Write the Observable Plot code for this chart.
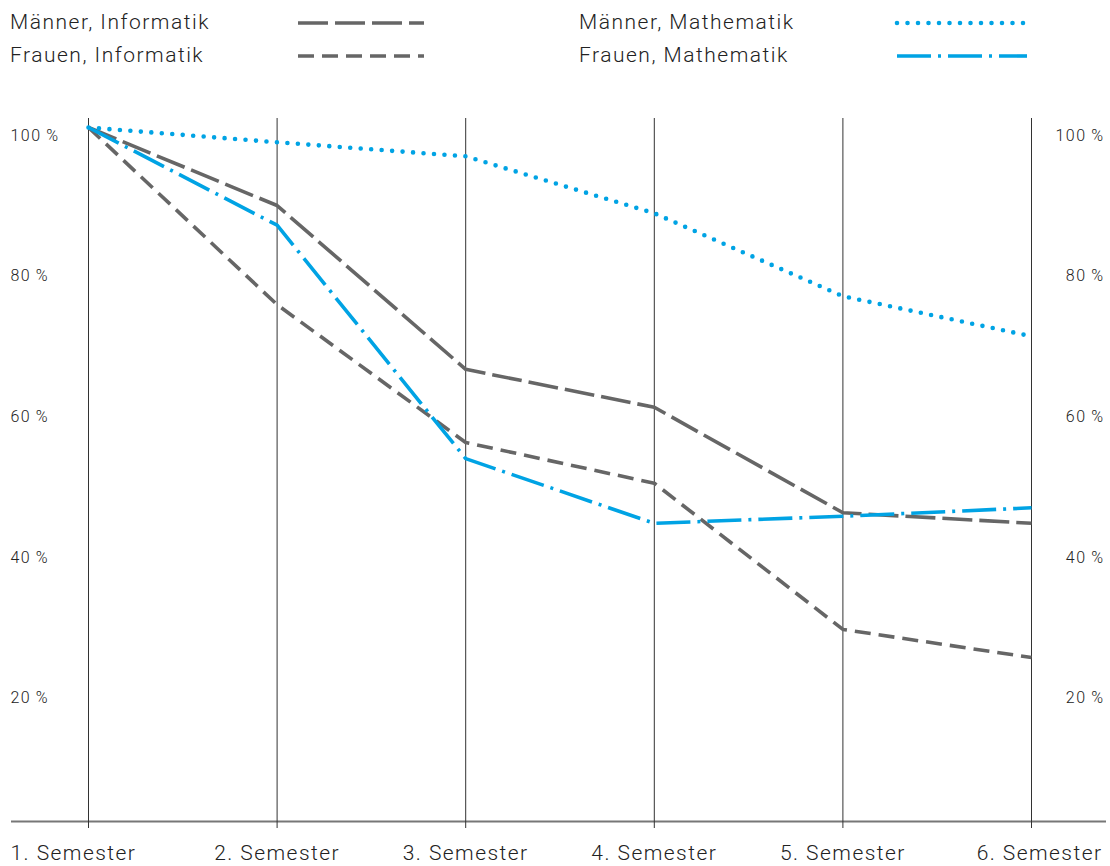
<!DOCTYPE html>
<html>
<head>
<meta charset="utf-8">
<script src="https://cdn.jsdelivr.net/npm/d3@7"></script>
<script src="https://cdn.jsdelivr.net/npm/@observablehq/plot@0.6"></script>
<style>
  html, body { margin: 0; padding: 0; background: #fff; }
  body { width: 1110px; height: 866px; overflow: hidden; font-family: Roboto, "Liberation Sans", sans-serif; font-weight: 300; color: #222; }
  #legend { position: relative; height: 80px; width: 1110px; }
  .lg-text { position: absolute; font-size: 21px; line-height: 24px; letter-spacing: 1.5px; white-space: nowrap; }
  .lg-swatch { position: absolute; }
  #chart svg { display: block; }
</style>
</head>
<body>
<div id="legend"></div>
<div id="chart"></div>
<script>
// ---- data ----
const semesters = [1, 2, 3, 4, 5, 6];
const semesterLabels = ["1. Semester", "2. Semester", "3. Semester", "4. Semester", "5. Semester", "6. Semester"];
const maennerInformatik = [100, 88.9, 65.6, 60.2, 45.2, 43.7];
const frauenInformatik = [100, 74.8, 55.2, 49.4, 28.6, 24.6];
const maennerMathematik = [100, 97.9, 95.9, 87.8, 76.0, 70.3];
const frauenMathematik = [100, 86.1, 52.9, 43.7, 44.7, 45.9];
const yTicks = [100, 80, 60, 40, 20];
const seriesNames = ["Männer, Informatik", "Frauen, Informatik", "Männer, Mathematik", "Frauen, Mathematik"];

// ---- styles ----
const GRAY = "#666666";
const BLUE = "#00a3e4";
const styles = {
  "Männer, Informatik": {stroke: GRAY, dash: "30 7", cap: "butt", width: 3.6},
  "Frauen, Informatik": {stroke: GRAY, dash: "16 8", cap: "butt", width: 3.6},
  "Männer, Mathematik": {stroke: BLUE, dash: "0 10.5", cap: "round", width: 4.6},
  "Frauen, Mathematik": {stroke: BLUE, dash: "34 7 3 7", cap: "butt", width: 3.6}
};
const seriesValues = [maennerInformatik, frauenInformatik, maennerMathematik, frauenMathematik];
const table = seriesNames.flatMap((name, i) =>
  semesters.map((s, j) => ({series: name, semester: s, value: seriesValues[i][j]})));

// ---- legend ----
const legend = document.getElementById("legend");
const legendPos = [
  {tx: 10, ty: 10, sx: 298, sw: 126},
  {tx: 10, ty: 43, sx: 298, sw: 126},
  {tx: 579, ty: 10, sx: 897, sw: 130},
  {tx: 579, ty: 43, sx: 897, sw: 130}
];
seriesNames.forEach((name, i) => {
  const p = legendPos[i], st = styles[name];
  const t = document.createElement("div");
  t.className = "lg-text";
  t.style.left = p.tx + "px"; t.style.top = p.ty + "px";
  t.textContent = name;
  legend.appendChild(t);
  const ns = "http://www.w3.org/2000/svg";
  const svg = document.createElementNS(ns, "svg");
  svg.setAttribute("class", "lg-swatch");
  svg.setAttribute("width", p.sw + 6); svg.setAttribute("height", 10);
  svg.style.left = (p.sx - 3) + "px"; svg.style.top = (p.ty + 8) + "px";
  const l = document.createElementNS(ns, "line");
  l.setAttribute("x1", 3); l.setAttribute("x2", p.sw + 3);
  l.setAttribute("y1", 5); l.setAttribute("y2", 5);
  l.setAttribute("stroke", st.stroke);
  l.setAttribute("stroke-width", st.width);
  l.setAttribute("stroke-dasharray", st.dash);
  l.setAttribute("stroke-linecap", st.cap);
  svg.appendChild(l);
  legend.appendChild(svg);
});

// ---- chart ----
const fmt = d => d + "\u2009%";
const lineMarks = seriesNames.map(name => {
  const st = styles[name];
  return Plot.line(table.filter(d => d.series === name), {
    x: "semester", y: "value",
    stroke: st.stroke, strokeWidth: st.width,
    strokeDasharray: st.dash, strokeLinecap: st.cap, strokeLinejoin: "round"
  });
});

const chart = Plot.plot({
  width: 1110,
  height: 786,
  marginTop: 47,
  marginBottom: 36,
  marginLeft: 88,
  marginRight: 79,
  style: {fontFamily: "Roboto, 'Liberation Sans', sans-serif", fontWeight: 300, color: "#222", background: "#fff", letterSpacing: "1.45px", overflow: "visible"},
  x: {domain: [1, 6], axis: null},
  y: {domain: [0, 100], axis: null},
  marks: [
    Plot.ruleY([0], {stroke: "#777", strokeWidth: 2, dy: -9, insetLeft: -77, insetRight: -75}),
    Plot.ruleX(semesters, {x: d => d, y1: 0, y2: 100, stroke: "#333", strokeWidth: 1, insetBottom: 9, insetTop: -2}),
    Plot.text(yTicks, {y: d => d, text: fmt, frameAnchor: "left", textAnchor: "start", lineAnchor: "top", dx: -78, dy: 2, fontSize: 16, fill: "#222"}),
    Plot.text(yTicks, {y: d => d, text: fmt, frameAnchor: "right", textAnchor: "end", lineAnchor: "top", dx: 73, dy: 2, fontSize: 16, fill: "#222"}),
    Plot.text(semesters.slice(0, 1), {x: d => d, text: (d) => semesterLabels[d - 1], frameAnchor: "bottom", textAnchor: "start", lineAnchor: "middle", dx: -78, dy: 23, fontSize: 21, fill: "#222"}),
    Plot.text(semesters.slice(1, 5), {x: d => d, text: (d) => semesterLabels[d - 1], frameAnchor: "bottom", textAnchor: "middle", lineAnchor: "middle", dy: 23, fontSize: 21, fill: "#222"}),
    Plot.text(semesters.slice(5), {x: d => d, text: (d) => semesterLabels[d - 1], frameAnchor: "bottom", textAnchor: "end", lineAnchor: "middle", dx: 71, dy: 23, fontSize: 21, fill: "#222"}),
    ...lineMarks
  ]
});
document.getElementById("chart").appendChild(chart);
</script>
</body>
</html>
